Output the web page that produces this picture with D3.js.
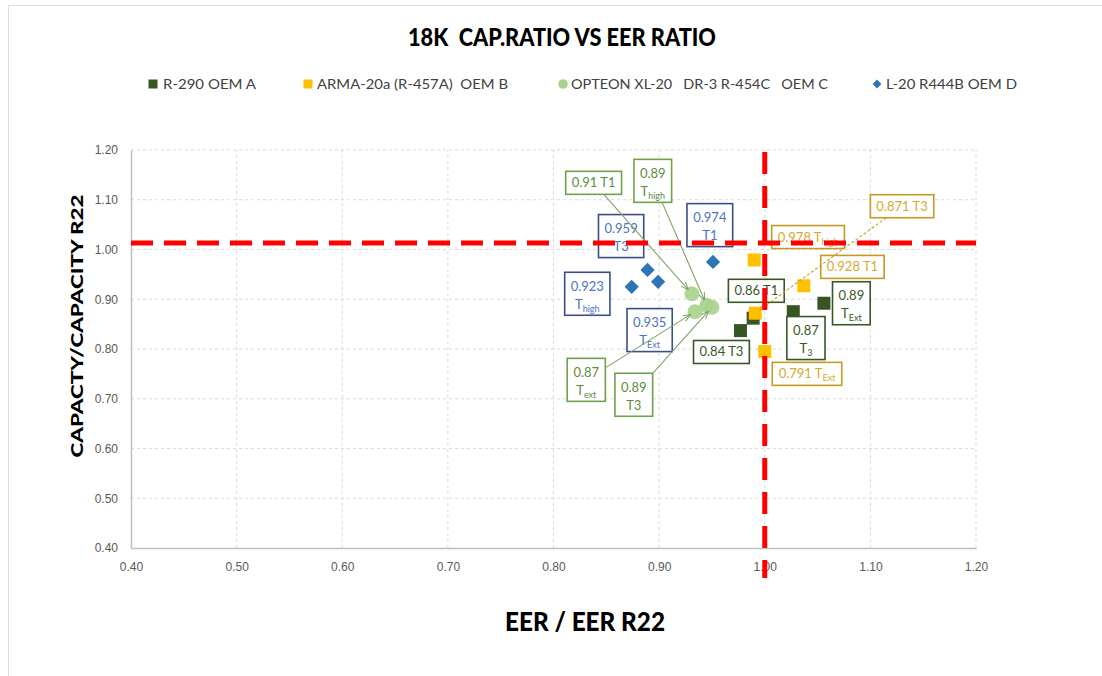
<!DOCTYPE html>
<html lang="en">
<head>
<meta charset="utf-8">
<script src="https://cdnjs.cloudflare.com/ajax/libs/d3/7.8.5/d3.min.js"></script>
<style>
  body { margin: 0; background: #ffffff; }
  svg { display: block; }
  text { white-space: pre; }
  .tick-lbl { font-family: "Liberation Sans", Arial, sans-serif; font-size: 12px; fill: #595959; }
  .tag { font-family: Lato, "Open Sans", sans-serif; font-size: 13px; }
</style>
</head>
<body>
<script>
// series names
var seriesNames = ["R-290 OEM A", "ARMA-20a (R-457A)  OEM B", "OPTEON XL-20   DR-3 R-454C   OEM C", "L-20 R444B OEM D"];

// EER ratio (x) and capacity ratio (y) per series
var eerA = [0.977, 0.989, 1.027, 1.056];
var capA = [0.837, 0.862, 0.875, 0.892];
var eerB = [0.990, 1.037, 0.991, 1.000];
var capB = [0.979, 0.927, 0.872, 0.795];
var eerC = [0.931, 0.945, 0.934, 0.950];
var capC = [0.911, 0.888, 0.875, 0.884];
var eerD = [0.874, 0.889, 0.899, 0.951];
var capD = [0.925, 0.959, 0.935, 0.975];

// callout texts: value, condition, subscript
var tagA = [["0.84", "T3", ""], ["0.86", "T1", ""], ["0.87", "T", "3"], ["0.89", "T", "Ext"]];
var tagB = [["0.978", "T", "high"], ["0.928", "T1", ""], ["0.871", "T3", ""], ["0.791", "T", "Ext"]];
var tagC = [["0.91", "T1", ""], ["0.89", "T", "high"], ["0.87", "T", "ext"], ["0.89", "T3", ""]];
var tagD = [["0.923", "T", "high"], ["0.959", "T3", ""], ["0.935", "T", "Ext"], ["0.974", "T1", ""]];

// axis ticks and reference lines
var xTicks = [0.4, 0.5, 0.6, 0.7, 0.8, 0.9, 1.0, 1.1, 1.2];
var yTicks = [0.4, 0.5, 0.6, 0.7, 0.8, 0.9, 1.0, 1.1, 1.2];
var refEer = 1.0;
var refCap = 1.013;

// callout box placement (box centre in data units, number of lines)
var posA = [[0.959, 0.794, 1], [0.992, 0.917, 1], [1.039, 0.822, 2], [1.082, 0.892, 2]];
var posB = [[1.041, 1.025, 1], [1.083, 0.965, 1], [1.130, 1.087, 1], [1.040, 0.750, 1]];
var posC = [[0.838, 1.134, 1], [0.894, 1.138, 2], [0.831, 0.738, 2], [0.876, 0.708, 2]];
var posD = [[0.832, 0.911, 2], [0.864, 1.027, 2], [0.891, 0.838, 2], [0.948, 1.049, 2]];

var W = 1102, H = 676;
var svg = d3.select("body").append("svg").attr("width", W).attr("height", H);

var x = d3.scaleLinear().domain([0.4, 1.2]).range([131, 976]);
var y = d3.scaleLinear().domain([0.4, 1.2]).range([548, 150]);

// page frame
svg.append("line").attr("x1", 8).attr("x2", W).attr("y1", 5.5).attr("y2", 5.5).attr("stroke", "#dedede");
svg.append("line").attr("x1", 8.5).attr("x2", 8.5).attr("y1", 5).attr("y2", H).attr("stroke", "#dedede");

// title
svg.append("text").attr("x", 562).attr("y", 46).attr("text-anchor", "middle")
  .style("font-family", "Lato, sans-serif").style("font-weight", "900").style("font-size", "25px")
  .attr("fill", "#000").attr("textLength", 308).attr("lengthAdjust", "spacingAndGlyphs")
  .text("18K  CAP.RATIO VS EER RATIO");

// gridlines
var grid = svg.append("g");
grid.selectAll(".gy").data(yTicks.slice(1)).enter().append("line")
  .attr("x1", x(0.4)).attr("x2", x(1.2)).attr("y1", d => y(d)).attr("y2", d => y(d))
  .attr("stroke", "#d9d9d9").attr("stroke-dasharray", "3,3");
grid.selectAll(".gx").data(xTicks.slice(1)).enter().append("line")
  .attr("x1", d => x(d)).attr("x2", d => x(d)).attr("y1", y(0.4)).attr("y2", y(1.2))
  .attr("stroke", "#d9d9d9").attr("stroke-dasharray", "3,3");

// axes
var xAxis = svg.append("g").attr("transform", "translate(0," + y(0.4) + ")")
  .call(d3.axisBottom(x).tickValues(xTicks).tickFormat(d3.format(".2f")).tickSize(0).tickPadding(14));
var yAxis = svg.append("g").attr("transform", "translate(" + x(0.4) + ",0)")
  .call(d3.axisLeft(y).tickValues(yTicks).tickFormat(d3.format(".2f")).tickSize(0).tickPadding(13));
[xAxis, yAxis].forEach(function(a) {
  a.select(".domain").attr("stroke", "#bfbfbf").attr("stroke-width", 1.5);
  a.selectAll("text").attr("class", "tick-lbl");
});

// axis titles
svg.append("text").attr("x", 585).attr("y", 631).attr("text-anchor", "middle")
  .style("font-family", "Lato, sans-serif").style("font-weight", "900").style("font-size", "27px")
  .attr("textLength", 160).attr("lengthAdjust", "spacingAndGlyphs").text("EER / EER R22");
svg.append("text").attr("transform", "translate(83,326) rotate(-90)").attr("text-anchor", "middle")
  .style("font-family", "Lato, sans-serif").style("font-weight", "900").style("font-size", "16px")
  .attr("textLength", 263).attr("lengthAdjust", "spacingAndGlyphs").text("CAPACTY/CAPACITY R22");

// legend
var legColors = ["#375623", "#FFC000", "#A9D18E", "#2E75B6"];
var legMarkX = [153, 308, 563, 877];
var legTextX = [163, 317, 571, 886];
var legTextW = [93, 191, 257, 131];
var leg = svg.append("g");
seriesNames.forEach(function(n, i) {
  var cx = legMarkX[i], cy = 84;
  if (i < 2) leg.append("rect").attr("x", cx - 4.5).attr("y", cy - 4.5).attr("width", 9).attr("height", 9).attr("fill", legColors[i]);
  else if (i == 2) leg.append("circle").attr("cx", cx).attr("cy", cy).attr("r", 4.8).attr("fill", legColors[i]);
  else leg.append("path").attr("d", d3.symbol(d3.symbolDiamond2, 50)()).attr("transform", "translate(" + cx + "," + cy + ")").attr("fill", legColors[i]);
  leg.append("text").attr("x", legTextX[i]).attr("y", cy + 5)
    .style("font-family", "Lato, sans-serif").style("font-size", "14px").attr("fill", "#404040")
    .attr("textLength", legTextW[i]).attr("lengthAdjust", "spacingAndGlyphs").text(n);
});

// arrow heads
var defs = svg.append("defs");
function arrowHead(id, col) {
  defs.append("marker").attr("id", id).attr("viewBox", "0 0 10 10").attr("refX", 9).attr("refY", 5)
    .attr("markerWidth", 7).attr("markerHeight", 7).attr("orient", "auto")
    .append("path").attr("d", "M0,1 L10,5 L0,9").attr("fill", "none").attr("stroke", col).attr("stroke-width", 1.4);
}
arrowHead("arrG", "#7FA367");
arrowHead("arrY", "#C9A02B");

// markers
var pts = svg.append("g");
function squares(ex, cy, col) {
  pts.selectAll(null).data(d3.zip(ex, cy)).enter().append("rect")
    .attr("x", d => x(d[0]) - 6.5).attr("y", d => y(d[1]) - 6.5)
    .attr("width", 13).attr("height", 13).attr("fill", col);
}
squares(eerA, capA, "#375623");
squares(eerB, capB, "#FFC000");
pts.selectAll(null).data(d3.zip(eerC, capC)).enter().append("circle")
  .attr("cx", d => x(d[0])).attr("cy", d => y(d[1])).attr("r", 7.5)
  .attr("fill", "#A9D18E").attr("fill-opacity", 0.92);
pts.selectAll(null).data(d3.zip(eerD, capD)).enter().append("path")
  .attr("d", d3.symbol(d3.symbolDiamond2, 130)())
  .attr("transform", d => "translate(" + x(d[0]) + "," + y(d[1]) + ")")
  .attr("fill", "#2E75B6");

// callouts
var tagsLayer = svg.append("g");
function callouts(tags, pos, ex, cy, stroke, txtCol, arrowIdx, arrowId, arrowCol, dashed) {
  tags.forEach(function(t, i) {
    var cxp = x(pos[i][0]), cyp = y(pos[i][1]), lines = pos[i][2];
    var g = tagsLayer.append("g");
    var rect = g.append("rect").attr("fill", "#fff").attr("stroke", stroke).attr("stroke-width", 1.6);
    var txt = g.append("text").attr("class", "tag").attr("fill", txtCol).attr("text-anchor", "middle");
    if (lines == 1) {
      txt.append("tspan").attr("x", cxp).attr("y", cyp + 4.5).text(t[0] + " " + t[1]);
      if (t[2]) txt.append("tspan").attr("dy", 3).style("font-size", "9px").text(t[2]);
    } else {
      txt.append("tspan").attr("x", cxp).attr("y", cyp - 3).text(t[0]);
      txt.append("tspan").attr("x", cxp).attr("y", cyp + 15).text(t[1]);
      if (t[2]) txt.append("tspan").attr("dy", 3).style("font-size", "9px").text(t[2]);
    }
    var bb = txt.node().getBBox();
    var w = bb.width + 12, h = lines == 1 ? 23 : 43;
    rect.attr("x", cxp - w / 2).attr("y", cyp - h / 2).attr("width", w).attr("height", h);
    // arrow from box edge to the point
    if (arrowIdx.indexOf(i) >= 0) {
      var tx = x(ex[i]), ty = y(cy[i]);
      var dx = tx - cxp, dy = ty - cyp;
      var s = Math.min(Math.abs((w / 2) / dx), Math.abs((h / 2) / dy));
      var sx = cxp + dx * s, sy = cyp + dy * s;
      var len = Math.hypot(tx - sx, ty - sy), back = 6;
      var ex2 = tx - (tx - sx) / len * back, ey2 = ty - (ty - sy) / len * back;
      var ln = svg.append("line").attr("x1", sx).attr("y1", sy).attr("x2", ex2).attr("y2", ey2)
        .attr("stroke", arrowCol).attr("stroke-width", 1.1).attr("marker-end", "url(#" + arrowId + ")");
      if (dashed) ln.attr("stroke-dasharray", "3,2");
    }
  });
}
callouts(tagA, posA, eerA, capA, "#385723", "#385723", [], "", "", false);
callouts(tagB, posB, eerB, capB, "#C49A22", "#D6A92B", [2], "arrY", "#C9A02B", true);
callouts(tagC, posC, eerC, capC, "#70A04C", "#5B8E3E", [0, 1, 2, 3], "arrG", "#7FA367", false);
callouts(tagD, posD, eerD, capD, "#3B4E87", "#4A73C0", [], "", "", false);

// red reference lines
svg.append("line").attr("x1", x(0.4)).attr("x2", x(1.2)).attr("y1", y(refCap)).attr("y2", y(refCap))
  .attr("stroke", "#FF0000").attr("stroke-width", 5).attr("stroke-dasharray", "22,11");
svg.append("line").attr("x1", x(refEer)).attr("x2", x(refEer)).attr("y1", 152).attr("y2", 578)
  .attr("stroke", "#FF0000").attr("stroke-width", 5).attr("stroke-dasharray", "22,12");
</script>
</body>
</html>
